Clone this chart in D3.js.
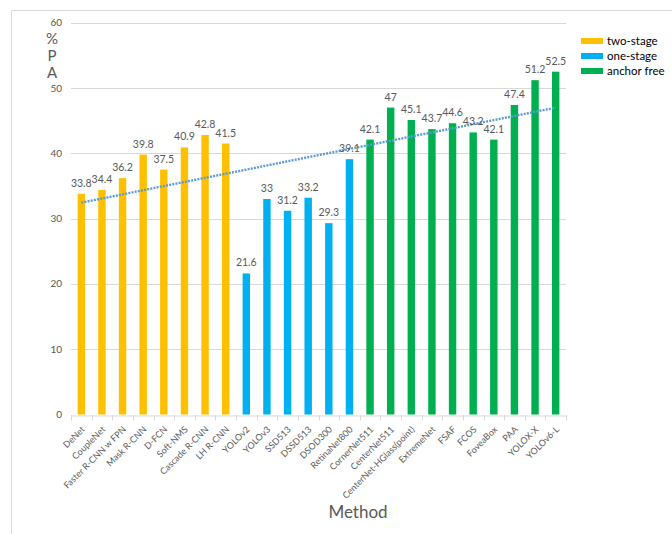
<!DOCTYPE html>
<html>
<head>
<meta charset="utf-8">
<script src="https://cdn.jsdelivr.net/npm/d3@7"></script>
<style>
  html, body { margin: 0; padding: 0; background: #fff; }
  svg { display: block; font-family: Lato, "Open Sans", sans-serif; }
</style>
</head>
<body>
<svg id="chart" width="672" height="534"></svg>
<script>
const methods = ["DeNet", "CoupleNet", "Faster R-CNN w FPN", "Mask R-CNN", "D-FCN", "Soft-NMS",
  "Cascade R-CNN", "LH R-CNN", "YOLOv2", "YOLOv3", "SSD513", "DSSD513", "DSOD300", "RetinaNet800",
  "CornerNet511", "CenterNet511", "CenterNet-HGlass(point)", "ExtremeNet", "FSAF", "FCOS",
  "FoveaBox", "PAA", "YOLOX-X", "YOLOv6-L"];
const apValues = [33.8, 34.4, 36.2, 39.8, 37.5, 40.9, 42.8, 41.5, 21.6, 33, 31.2, 33.2, 29.3, 39.1,
  42.1, 47, 45.1, 43.7, 44.6, 43.2, 42.1, 47.4, 51.2, 52.5];
const groupOf = ["two-stage", "two-stage", "two-stage", "two-stage", "two-stage", "two-stage",
  "two-stage", "two-stage", "one-stage", "one-stage", "one-stage", "one-stage", "one-stage",
  "one-stage", "anchor free", "anchor free", "anchor free", "anchor free", "anchor free",
  "anchor free", "anchor free", "anchor free", "anchor free", "anchor free"];
const groups = ["two-stage", "one-stage", "anchor free"];
const groupColors = ["#FFC000", "#00B0F0", "#00B050"];
const yTicks = [0, 10, 20, 30, 40, 50, 60];

const svg = d3.select("#chart");
const x = d3.scaleBand().domain(methods).range([71, 566]).padding(0);
const y = d3.scaleLinear().domain([0, 60]).range([414.5, 22.7]);
const color = d3.scaleOrdinal().domain(groups).range(groupColors);
const grey = "#595959";
const lineGrey = "#d9d9d9";

// outer frame
svg.append("line").attr("x1", 11.5).attr("x2", 11.5).attr("y1", 10.5).attr("y2", 534)
  .attr("stroke", lineGrey);
svg.append("line").attr("x1", 11.5).attr("x2", 672).attr("y1", 10.5).attr("y2", 10.5)
  .attr("stroke", lineGrey);

// gridlines
svg.append("g").selectAll("line").data(yTicks.filter(d => d > 0)).join("line")
  .attr("x1", 71).attr("x2", 566)
  .attr("y1", d => Math.round(y(d)) + 0.5).attr("y2", d => Math.round(y(d)) + 0.5)
  .attr("stroke", lineGrey).attr("stroke-width", 1);

// y tick labels
svg.append("g").selectAll("text").data(yTicks).join("text")
  .attr("x", 62).attr("y", d => y(d)).attr("dy", "0.35em")
  .attr("text-anchor", "end").attr("font-size", 10).attr("fill", grey)
  .text(d => d);

// x axis
const xAxis = d3.axisBottom(x).tickSize(0).tickFormat("");
const gx = svg.append("g").attr("transform", `translate(0,${Math.round(y(0)) + 0.5})`).call(xAxis);
gx.select(".domain").attr("stroke", lineGrey);
const bounds = methods.map(m => x(m)).concat([x.range()[1]]);
svg.append("g").selectAll("line").data(bounds).join("line")
  .attr("x1", d => Math.round(d) + 0.5).attr("x2", d => Math.round(d) + 0.5)
  .attr("y1", Math.round(y(0))).attr("y2", Math.round(y(0)) + 5.5)
  .attr("stroke", lineGrey);

// bars
const bw = x.bandwidth() * 0.36;
svg.append("g").selectAll("rect").data(methods).join("rect")
  .attr("x", (m) => x(m) + x.bandwidth() / 2 - bw / 2)
  .attr("y", (m, i) => y(apValues[i]))
  .attr("width", bw)
  .attr("height", (m, i) => y(0) - y(apValues[i]))
  .attr("fill", (m, i) => color(groupOf[i]));

// trendline (linear regression over category index)
const n = apValues.length;
const xs = d3.range(1, n + 1);
const mx = d3.mean(xs), my = d3.mean(apValues);
const sxy = d3.sum(xs, (v, i) => (v - mx) * (apValues[i] - my));
const sxx = d3.sum(xs, v => (v - mx) * (v - mx));
const slope = sxy / sxx, intercept = my - slope * mx;
const trendPts = [1, n].map(k => [x(methods[k - 1]) + x.bandwidth() / 2, y(intercept + slope * k)]);
svg.append("path").attr("d", d3.line()(trendPts))
  .attr("fill", "none").attr("stroke", "#5B9BD5").attr("stroke-width", 2.4)
  .attr("stroke-dasharray", "2,1.2");

// data labels
svg.append("g").selectAll("text").data(methods).join("text")
  .attr("x", m => x(m) + x.bandwidth() / 2)
  .attr("y", (m, i) => y(apValues[i]) - 7)
  .attr("text-anchor", "middle").attr("font-size", 10.5).attr("fill", grey)
  .text((m, i) => apValues[i]);

// x category labels
svg.append("g").selectAll("text").data(methods).join("text")
  .attr("transform", m => `translate(${x(m) + x.bandwidth() / 2 + 4},${Math.round(y(0)) + 15}) rotate(-45)`)
  .attr("text-anchor", "end").attr("font-size", 9).attr("fill", grey)
  .text(m => m);

// axis titles
svg.append("text").attr("x", 358).attr("y", 518).attr("text-anchor", "middle")
  .attr("font-size", 17).attr("fill", grey).text("Method");
const yTitle = ["%", "P", "A"];
const yTitleBase = [44, 61, 78];
svg.append("g").selectAll("text").data(yTitle).join("text")
  .attr("x", 52).attr("y", (d, i) => yTitleBase[i]).attr("text-anchor", "middle")
  .attr("font-size", 15).attr("fill", grey).text(d => d);

// legend
const lg = svg.append("g").selectAll("g").data(groups).join("g")
  .attr("transform", (d, i) => `translate(581,${41 + i * 15})`);
lg.append("rect").attr("x", 0).attr("y", -3).attr("width", 22).attr("height", 6)
  .attr("fill", d => color(d));
lg.append("text").attr("x", 26).attr("y", 0).attr("dy", "0.35em")
  .attr("font-size", 11.5).attr("fill", "#000").text(d => d);
</script>
</body>
</html>
